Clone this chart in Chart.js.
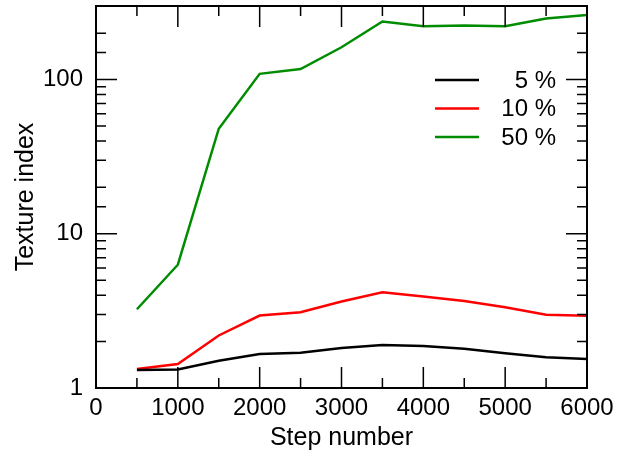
<!DOCTYPE html>
<html>
<head>
<meta charset="utf-8">
<script src="https://cdn.jsdelivr.net/npm/chart.js@4/dist/chart.umd.min.js"></script>
<style>
  html, body { margin: 0; padding: 0; background: #fff; }
  #wrap { width: 618px; height: 460px; }
</style>
</head>
<body>
<div id="wrap"><canvas id="chart" width="618" height="460"></canvas></div>
<script>
// шаги и значения индекса текстуры
const steps = [500, 1000, 1500, 2000, 2500, 3000, 3500, 4000, 4500, 5000, 5500, 6000];
const seriesLabels = ['5 %', '10 %', '50 %'];
const values5 = [1.31, 1.32, 1.50, 1.66, 1.69, 1.82, 1.90, 1.87, 1.80, 1.68, 1.58, 1.54];
const values10 = [1.33, 1.43, 2.19, 2.95, 3.10, 3.64, 4.18, 3.92, 3.67, 3.34, 2.99, 2.94];
const values50 = [3.24, 6.3, 48, 109, 117, 162, 238, 222, 224, 222, 249, 262];
const yMajorTicks = [1, 10, 100];
const xLabelStep = 1000;

const FONT = "'Liberation Sans', Arial, sans-serif";
const colors = ['#000000', '#ff0000', '#008c00'];

function toPoints(vals) {
    return steps.map((s, i) => ({ x: s, y: vals[i] }));
}

const datasets = [values5, values10, values50].map((vals, i) => ({
    label: seriesLabels[i],
    data: toPoints(vals),
    borderColor: colors[i],
    backgroundColor: colors[i],
    borderWidth: 2.5,
    pointRadius: 0,
    tension: 0,
    fill: false
}));

// рамка, засечки внутрь и легенда
const framePlugin = {
    id: 'frame',
    afterDraw(chart) {
        const ctx = chart.ctx;
        const a = chart.chartArea;
        const xs = chart.scales.x;
        const ys = chart.scales.y;
        ctx.save();
        ctx.strokeStyle = '#000';
        ctx.lineWidth = 1.5;
        ctx.beginPath();
        xs.ticks.forEach(t => {
            const px = xs.getPixelForValue(t.value);
            const len = t.value % xLabelStep === 0 ? 21 : 10;
            ctx.moveTo(px, a.bottom); ctx.lineTo(px, a.bottom - len);
            ctx.moveTo(px, a.top); ctx.lineTo(px, a.top + len);
        });
        ys.ticks.forEach(t => {
            const py = ys.getPixelForValue(t.value);
            const len = yMajorTicks.includes(t.value) ? 21 : 10;
            ctx.moveTo(a.left, py); ctx.lineTo(a.left + len, py);
            ctx.moveTo(a.right, py); ctx.lineTo(a.right - len, py);
        });
        ctx.stroke();
        ctx.lineWidth = 2;
        ctx.strokeRect(a.left, a.top, a.right - a.left, a.bottom - a.top);

        // легенда
        ctx.font = '24px ' + FONT;
        ctx.textAlign = 'right';
        ctx.textBaseline = 'middle';
        chart.data.datasets.forEach((ds, i) => {
            const y = 80 + i * 28.5;
            ctx.strokeStyle = ds.borderColor;
            ctx.lineWidth = 2.5;
            ctx.beginPath();
            ctx.moveTo(435, y);
            ctx.lineTo(479, y);
            ctx.stroke();
            ctx.fillStyle = '#000';
            ctx.fillText(ds.label, 556, y + 1);
        });
        ctx.restore();
    }
};

new Chart(document.getElementById('chart'), {
    type: 'line',
    data: { datasets: datasets },
    options: {
        responsive: false,
        animation: false,
        layout: { padding: { top: 6, right: 31, left: 0, bottom: 0 } },
        plugins: {
            legend: { display: false },
            tooltip: { enabled: false }
        },
        scales: {
            x: {
                type: 'linear',
                min: 0,
                max: 6000,
                grid: { display: false, drawTicks: false },
                border: { display: false },
                ticks: {
                    stepSize: 500,
                    autoSkip: false,
                    maxRotation: 0,
                    padding: 6,
                    color: '#000',
                    font: { family: FONT, size: 24 },
                    callback: v => (v % xLabelStep === 0 ? String(v) : '')
                },
                title: {
                    display: true,
                    text: 'Step number',
                    color: '#000',
                    font: { family: FONT, size: 25 },
                    padding: { top: 0, bottom: 7 }
                },
                afterFit: s => {
                    s.height = 72;
                    s.paddingLeft = 0;
                    s.paddingRight = 0;
                }
            },
            y: {
                type: 'logarithmic',
                min: 1,
                max: 300,
                grid: { display: false, drawTicks: false },
                border: { display: false },
                ticks: {
                    autoSkip: false,
                    padding: 13,
                    color: '#000',
                    font: { family: FONT, size: 24 },
                    callback: v => (yMajorTicks.includes(v) ? String(v) : '')
                },
                title: {
                    display: true,
                    text: 'Texture index',
                    color: '#000',
                    font: { family: FONT, size: 25 },
                    padding: { top: 11, bottom: 0 }
                },
                afterFit: s => {
                    s.width = 96;
                    s.paddingTop = 0;
                    s.paddingBottom = 0;
                }
            }
        }
    },
    plugins: [framePlugin]
});
</script>
</body>
</html>
